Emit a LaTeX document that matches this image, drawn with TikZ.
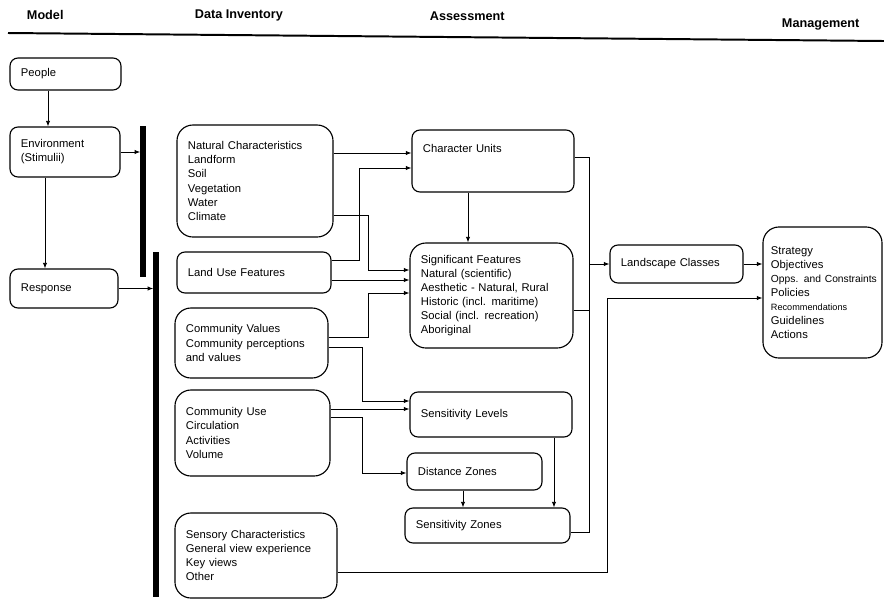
\documentclass[tikz,border=0pt]{standalone}
\usepackage{fontspec}
\setmainfont{Liberation Sans}
\usetikzlibrary{arrows.meta}
\tikzset{
	box/.style = {draw, line width=0.8pt, rounded corners=0.2cm, align=left, inner xsep=0.275cm, inner ysep=0pt, font=\fontsize{8}{10}\selectfont},
	bigbox/.style = {box, rounded corners=0.4cm},
	head/.style = {anchor=west, font=\fontsize{9}{11}\selectfont\bfseries},
	arr/.style = {line width=0.6pt, -{Latex[length=1.4mm,width=1.1mm]}},
	wire/.style = {line width=0.6pt},
	bar/.style = {line width=4pt}
}

\begin{document}
\begin{tikzpicture}[x=0.025cm, y=-0.025cm]
	\useasboundingbox (0,0) rectangle (884,601);
	% column heads
	\node[head] (hmodel) at (22,15) {Model};
	\node[head] (hdata) at (190,15) {Data Inventory};
	\node[head] (hassess) at (425,16) {Assessment};
	\node[head] (hmanage) at (777,24) {Management};
	\draw[line width=1.4pt] (8,33) -- (884,41);

	% model
	\node[box, text width=2.225cm, minimum height=0.8cm] (people) at (65.5,74) {People};
	\node[box, text width=2.2cm, minimum height=1.25cm] (env) at (65,152) {Environment\\(Stimulii)};
	\node[box, text width=2.15cm, minimum height=0.975cm] (resp) at (64,288.5) {Response};
	\coordinate (bar1top) at (143,126);
	\coordinate (bar1bot) at (143,277);
	\coordinate (bar2top) at (156,252);
	\coordinate (bar2bot) at (156,597);
	\draw[bar] (bar1top) -- (bar1bot);
	\draw[bar] (bar2top) -- (bar2bot);

	% data inventory
	\node[bigbox, text width=3.35cm, minimum height=2.8cm] (nat) at (255,181) {Natural Characteristics\\Landform\\Soil\\Vegetation\\Water\\Climate};
	\node[box, text width=3.3cm, minimum height=1.025cm] (landuse) at (254,272.5) {Land Use Features};
	\node[bigbox, text width=3.275cm, minimum height=1.75cm] (comval) at (251.5,343) {Community Values\\Community perceptions\\and values};
	\node[bigbox, text width=3.325cm, minimum height=2.15cm] (comuse) at (252.5,433) {Community Use\\Circulation\\Activities\\Volume};
	\node[bigbox, text width=3.5cm, minimum height=2.125cm] (sensory) at (256,555.5) {Sensory Characteristics\\General view experience\\Key views\\Other};

	% assessment
	\node[box, text width=3.5cm, minimum height=1.55cm] (charu) at (493,161) {Character Units\\[8pt]\mbox{}};
	\node[bigbox, text width=3.525cm, minimum height=2.625cm] (sigf) at (491.5,295.5) {Significant Features\\Natural (scientific)\\Aesthetic - Natural, Rural\\Historic (incl. maritime)\\Social (incl. recreation)\\Aboriginal};
	\node[box, text width=3.5cm, minimum height=1.125cm] (senslev) at (491,414.5) {Sensitivity Levels};
	\node[box, text width=2.825cm, minimum height=0.925cm] (dist) at (474.5,471.5) {Distance Zones};
	\node[box, text width=3.575cm, minimum height=0.875cm] (senszone) at (487.5,525.5) {Sensitivity Zones};
	\node[box, text width=2.775cm, minimum height=0.95cm] (landc) at (676.5,264) {Landscape Classes};

	% management
	\node[bigbox, inner xsep=0.2cm, text width=2.575cm, minimum height=3.275cm] (mgmt) at (822.5,292.5) {Strategy\\Objectives\\\mbox{\fontsize{7.3}{10}\selectfont Opps. and Constraints}\\Policies\\{\fontsize{6.5}{10}\selectfont Recommendations}\\Guidelines\\Actions};

	% connectors
	\draw[arr] (people.south -| 48,0) -- (env.north -| 48,0);
	\draw[arr] (env.south -| 45,0) -- (resp.north -| 45,0);
	\draw[arr, shorten >=2pt] (env.east) -- (env.east -| bar1top);
	\draw[arr, shorten >=2pt] (resp.east) -- (resp.east -| bar2top);

	\draw[arr] (nat.east |- 0,153) -- (charu.west |- 0,153);
	\draw[arr] (landuse.east |- 0,260) -| (359,168) -- (charu.west |- 0,168);
	\draw[arr] (nat.east |- 0,215) -| (368,270) -- (sigf.west |- 0,270);
	\draw[arr] (landuse.east |- 0,280) -- (sigf.west |- 0,280);
	\draw[arr] (comval.east |- 0,337) -| (368,293) -- (sigf.west |- 0,293);
	\draw[arr] (comval.east |- 0,347) -| (362,401) -- (senslev.west |- 0,401);
	\draw[arr] (comuse.east |- 0,409) -- (senslev.west |- 0,409);
	\draw[arr] (comuse.east |- 0,417) -| (362,473) -- (dist.west |- 0,473);
	\draw[arr] (sensory.east |- 0,572) -| (607,298) -- (mgmt.west |- 0,298);

	\coordinate (trunk) at (589,532);
	\draw[arr] (charu.south -| 468,0) -- (sigf.north -| 468,0);
	\draw[wire] (charu.east |- 0,157) -| (trunk) -- (senszone.east |- trunk);
	\draw[wire] (sigf.east |- 0,310) -- (trunk |- 0,310);
	\draw[arr] (landc.west -| trunk) -- (landc.west);
	\draw[arr] (senslev.south -| 554,0) -- (senszone.north -| 554,0);
	\draw[arr] (dist.south -| 463,0) -- (senszone.north -| 463,0);
	\draw[arr] (landc.east) -- (mgmt.west |- landc.east);
\end{tikzpicture}
\end{document}
